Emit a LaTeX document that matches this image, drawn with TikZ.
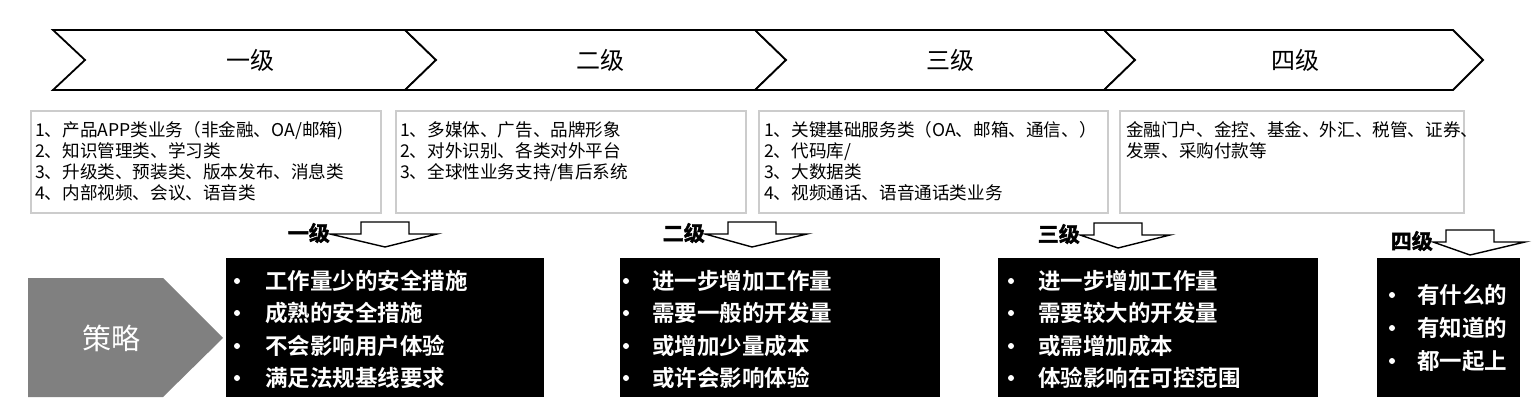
\documentclass[tikz,border=0pt]{standalone}
\usepackage{fontspec}
\setmainfont{Noto Sans CJK SC}[BoldFont={Noto Sans CJK SC Bold}]
\newfontfamily\heavyfont{Noto Sans CJK SC Bold}[FakeBold=2]
\definecolor{boxgray}{HTML}{CCCCCC}
\definecolor{stratgray}{HTML}{808080}
\newcommand\lvarrow[6]{%
  \draw[arrowshape] (#3,#2-13) -- (#1-24,#2-13) -- (#1-24,#2-25) -- (#1+24,#2-25)
    -- (#1+24,#2-13) -- (#4,#2-13) -- (#1,#2) -- cycle;
  \node[arrowlabel, anchor=east] (#5) at (#3,#2-14) {#6};
}
\begin{document}
\begin{tikzpicture}[x=1pt,y=-1pt,
  chev/.style={draw=black, line width=1.8pt, fill=white, line join=miter},
  chevlabel/.style={inner sep=0, font=\fontsize{24}{28}\selectfont},
  infobox/.style={draw=boxgray, line width=2pt, fill=white, anchor=north west, inner sep=0, minimum height=102pt},
  infoline/.style={anchor=base west, inner sep=0, font=\fontsize{17.6}{21}\selectfont},
  stratbox/.style={fill=black, draw=none, anchor=north west, inner sep=0, minimum height=139pt},
  stratline/.style={anchor=base west, inner sep=0, text=white, font=\bfseries\fontsize{22.5}{26}\selectfont},
  bulletdot/.style={fill=white, draw=none},
  arrowshape/.style={draw=black, line width=1.4pt, fill=white, line join=miter},
  arrowlabel/.style={inner sep=0, font=\heavyfont\fontsize{21}{24}\selectfont}
]
\useasboundingbox (0,0) rectangle (1534,414);
\fill[white] (0,0) rectangle (1534,414);

% chevrons
\draw[chev] (53,30) -- (405,30) -- (436,60) -- (405,90) -- (53,90) -- (85,60) -- cycle;
\draw[chev] (405,30) -- (755,30) -- (786,60) -- (755,90) -- (405,90) -- (436,60) -- cycle;
\draw[chev] (755,30) -- (1104,30) -- (1135,60) -- (1104,90) -- (755,90) -- (786,60) -- cycle;
\draw[chev] (1104,30) -- (1453,30) -- (1483,60) -- (1453,90) -- (1104,90) -- (1135,60) -- cycle;
\node[chevlabel] (c1) at (250,60) {一级};
\node[chevlabel] (c2) at (600,60) {二级};
\node[chevlabel] (c3) at (950,60) {三级};
\node[chevlabel] (c4) at (1295,60) {四级};

% info boxes
\node[infobox, minimum width=350pt] (i1) at (30,110) {};
\node[infobox, minimum width=350pt] (i2) at (395,110) {};
\node[infobox, minimum width=349pt] (i3) at (758,110) {};
\node[infobox, minimum width=344pt] (i4) at (1119,110) {};

\node[infoline] (i1a) at (35,137) {1、产品APP类业务（非金融、OA/邮箱)};
\node[infoline] (i1b) at (35,158) {2、知识管理类、学习类};
\node[infoline] (i1c) at (35,179) {3、升级类、预装类、版本发布、消息类};
\node[infoline] (i1d) at (35,200) {4、内部视频、会议、语音类};

\node[infoline] (i2a) at (400,137) {1、多媒体、广告、品牌形象};
\node[infoline] (i2b) at (400,158) {2、对外识别、各类对外平台};
\node[infoline] (i2c) at (400,179) {3、全球性业务支持/售后系统};

\node[infoline] (i3a) at (764,137) {1、关键基础服务类（OA、邮箱、通信、）};
\node[infoline] (i3b) at (764,158) {2、代码库/};
\node[infoline] (i3c) at (764,179) {3、大数据类};
\node[infoline] (i3d) at (764,200) {4、视频通话、语音通话类业务};

\node[infoline] (i4a) at (1126,137) {金融门户、金控、基金、外汇、税管、证券、};
\node[infoline] (i4b) at (1126,158) {发票、采购付款等};

% strategy shape
\fill[stratgray] (28,278) -- (163,278) -- (223,338) -- (163,397) -- (28,397) -- cycle;
\node[inner sep=0, text=white, font=\fontsize{29}{32}\selectfont] (s) at (111,338) {策略};

% level arrows
\lvarrow{385}{247}{330}{437}{a1}{一级}
\lvarrow{752}{247}{705}{807}{a2}{二级}
\lvarrow{1118}{248}{1080}{1170}{a3}{三级}
\lvarrow{1470}{255}{1433}{1525}{a4}{四级}

% strategy boxes
\node[stratbox, minimum width=318pt] (b1) at (226,258) {};
\node[stratbox, minimum width=320pt] (b2) at (620,258) {};
\node[stratbox, minimum width=320pt] (b3) at (998,258) {};
\node[stratbox, minimum width=143pt] (b4) at (1377,258) {};

\foreach \yy in {281,313,346,378} {
  \fill[bulletdot] (237,\yy) circle (3);
  \fill[bulletdot] (626,\yy) circle (3);
  \fill[bulletdot] (1011,\yy) circle (3);
}
\foreach \yy in {295,328,361} {
  \fill[bulletdot] (1392,\yy) circle (3);
}

\node[stratline] (b1a) at (265,289) {工作量少的安全措施};
\node[stratline] (b1b) at (265,321) {成熟的安全措施};
\node[stratline] (b1c) at (265,354) {不会影响用户体验};
\node[stratline] (b1d) at (265,386) {满足法规基线要求};

\node[stratline] (b2a) at (652,289) {进一步增加工作量};
\node[stratline] (b2b) at (652,321) {需要一般的开发量};
\node[stratline] (b2c) at (652,354) {或增加少量成本};
\node[stratline] (b2d) at (652,386) {或许会影响体验};

\node[stratline] (b3a) at (1038,289) {进一步增加工作量};
\node[stratline] (b3b) at (1038,321) {需要较大的开发量};
\node[stratline] (b3c) at (1038,354) {或需增加成本};
\node[stratline] (b3d) at (1038,386) {体验影响在可控范围};

\node[stratline] (b4a) at (1417,303) {有什么的};
\node[stratline] (b4b) at (1417,336) {有知道的};
\node[stratline] (b4c) at (1417,369) {都一起上};
\end{tikzpicture}
\end{document}
